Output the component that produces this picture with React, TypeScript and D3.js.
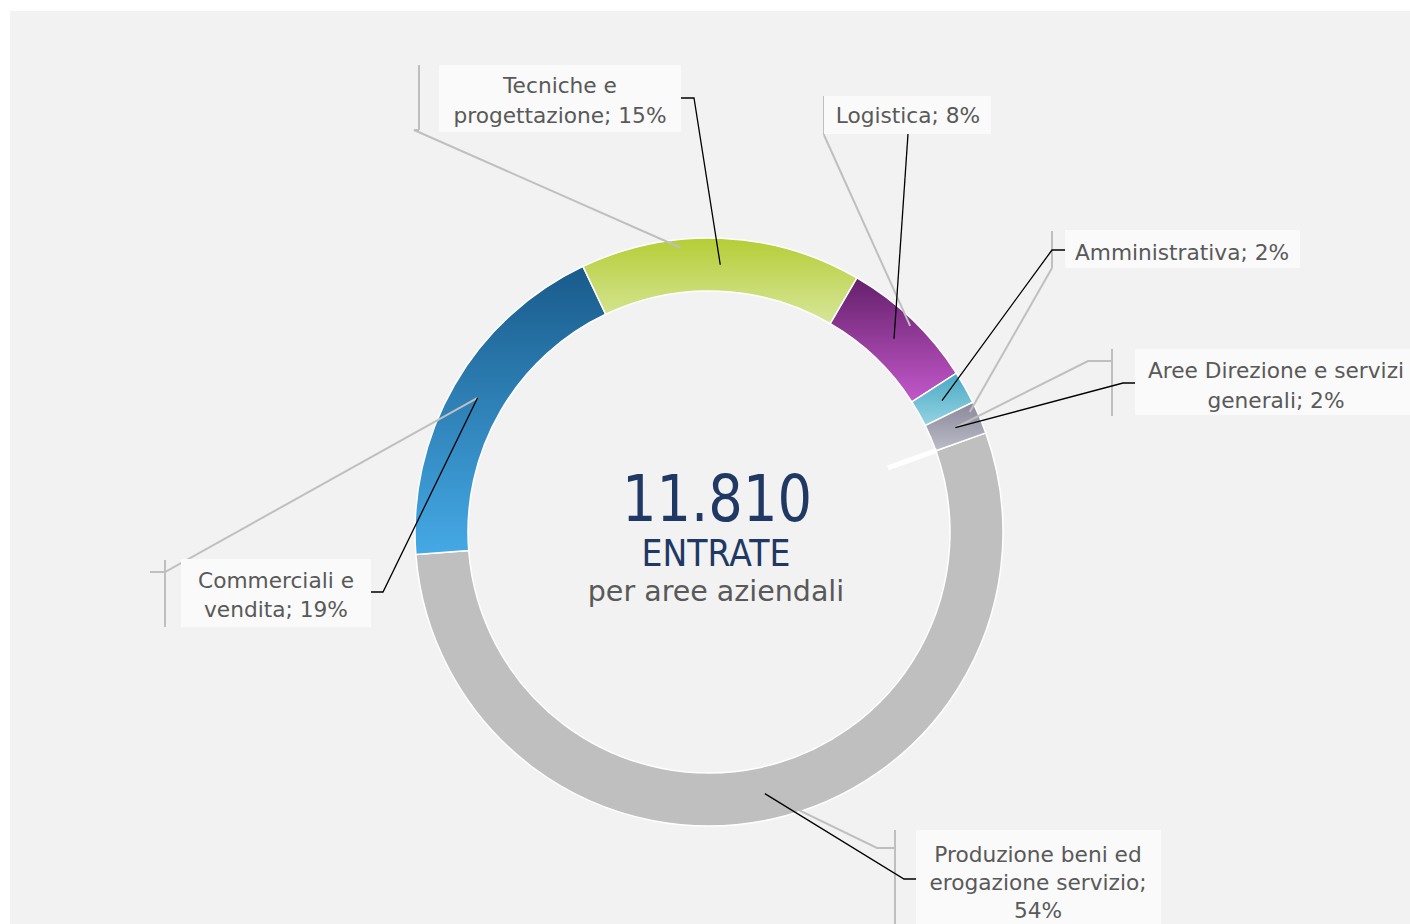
import React from "react";
import * as d3 from "d3";

// ---- data ----
const categories = [
  "Produzione beni ed erogazione servizio",
  "Commerciali e vendita",
  "Tecniche e progettazione",
  "Logistica",
  "Amministrativa",
  "Aree Direzione e servizi generali",
];
const values = [6407, 2264, 1824, 889, 213, 213];
const centerTitle = "11.810";
const centerSub1 = "ENTRATE";
const centerSub2 = "per aree aziendali";

// ---- styling / layout ----
const W = 1410;
const H = 924;
const cx = 709;
const cy = 532;
const R = 294;
const r0 = 241;
const startDeg = 70.3;

const gradTop = ["#bfbfbf", "#195b8b", "#b6cd36", "#65206b", "#48a8c3", "#8a889a"];
const gradBot = ["#bfbfbf", "#45a9e5", "#d7e69a", "#c258ca", "#95d4e3", "#bcbbc7"];

type Lay = {
  box: [number, number, number, number];
  tx: number;
  ty: number[];
  wrap: number[];
  black: [number, number][];
  grayStart: [number, number] | null; // [deg, radius] or null = centroid
  gray: [number, number][];
  grayV: [number, number, number];
};

const layout: Lay[] = [
  {
    box: [916, 830, 245, 100], tx: 1038, ty: [862, 890, 918], wrap: [3, 2, 1],
    black: [[904, 879], [916, 879]],
    grayStart: null, gray: [[877, 848], [895, 848]], grayV: [895, 830, 924],
  },
  {
    box: [181, 559, 190, 68], tx: 276, ty: [588, 617], wrap: [2, 2],
    black: [[383, 592], [371, 592]],
    grayStart: null, gray: [[165, 572], [150, 572]], grayV: [165, 560, 627],
  },
  {
    box: [439, 65, 242, 67], tx: 560, ty: [93, 123], wrap: [2, 2],
    black: [[694, 98], [681, 98]],
    grayStart: [-5.8, 286], gray: [[414, 130], [419, 130]], grayV: [419, 65, 130],
  },
  {
    box: [824, 96, 167, 38], tx: 908, ty: [123], wrap: [2],
    black: [[908, 134]],
    grayStart: [44.3, 288], gray: [[824, 135]], grayV: [824, 96, 135],
  },
  {
    box: [1065, 230, 235, 38], tx: 1182, ty: [260], wrap: [2],
    black: [[1052, 250], [1065, 250]],
    grayStart: [65.3, 287], gray: [[1052, 268]], grayV: [1052, 231, 268],
  },
  {
    box: [1135, 349, 290, 66], tx: 1276, ty: [378, 408], wrap: [4, 2],
    black: [[1123, 383], [1135, 383]],
    grayStart: null, gray: [[1088, 361], [1112, 361]], grayV: [1112, 349, 416],
  },
];

const FONT = "'DejaVu Sans', sans-serif";

export default function App() {
  const total = d3.sum(values);
  const pct = d3.format(".0%");
  const toRad = (d: number) => (d * Math.PI) / 180;

  const pie = d3
    .pie<number>()
    .sort(null)
    .value((d) => d)
    .startAngle(toRad(startDeg))
    .endAngle(toRad(startDeg) + Math.PI * 2);
  const arcs = pie(values);
  const arc = d3.arc<d3.PieArcDatum<number>>().innerRadius(r0).outerRadius(R);

  const polar = (deg: number, rad: number): [number, number] => [
    cx + rad * Math.sin(toRad(deg)),
    cy - rad * Math.cos(toRad(deg)),
  ];
  const centroid = (i: number): [number, number] => {
    const c = arc.centroid(arcs[i]);
    return [cx + c[0], cy + c[1]];
  };

  const line = d3.line();

  const labels = categories.map((c, i) => {
    const words = `${c}; ${pct(values[i] / total)}`.split(" ");
    const lines: string[] = [];
    let k = 0;
    layout[i].wrap.forEach((n) => {
      lines.push(words.slice(k, k + n).join(" "));
      k += n;
    });
    return lines;
  });

  const whiteA = polar(startDeg, 190);
  const whiteB = polar(startDeg, r0 + 1);

  return (
    <svg
      width={W}
      height={H}
      style={{ position: "absolute", left: 0, top: 0 }}
      fontFamily={FONT}
    >
      <defs>
        {values.map((_, i) => (
          <linearGradient key={i} id={`g${i}`} x1="0" y1="0" x2="0" y2="1">
            <stop offset="0" stopColor={gradTop[i]} />
            <stop offset="1" stopColor={gradBot[i]} />
          </linearGradient>
        ))}
      </defs>
      <rect x={0} y={0} width={W} height={H} fill="#ffffff" />
      <rect x={10} y={11} width={W - 10} height={H - 11} fill="#f2f2f2" />

      {/* gray vertical stubs */}
      {layout.map((l, i) => (
        <line key={`gv${i}`} x1={l.grayV[0]} y1={l.grayV[1]} x2={l.grayV[0]} y2={l.grayV[2]} stroke="#bfbfbf" strokeWidth={2} />
      ))}

      {/* slices */}
      <g transform={`translate(${cx},${cy})`}>
        {arcs.map((a, i) => (
          <path key={i} d={arc(a) || ""} fill={`url(#g${i})`} stroke="#ffffff" strokeWidth={1.5} />
        ))}
      </g>

      <line x1={whiteA[0]} y1={whiteA[1]} x2={whiteB[0]} y2={whiteB[1]} stroke="#ffffff" strokeWidth={5} />

      {/* gray phantom leader lines */}
      {layout.map((l, i) => {
        const s = l.grayStart ? polar(l.grayStart[0], l.grayStart[1]) : centroid(i);
        return (
          <path key={`gl${i}`} d={line([s, ...l.gray]) || ""} stroke="#bfbfbf" strokeWidth={2} fill="none" />
        );
      })}

      {/* black leader lines */}
      {layout.map((l, i) => (
        <path key={`bl${i}`} d={line([centroid(i), ...l.black]) || ""} stroke="#000000" strokeWidth={1.3} fill="none" />
      ))}

      {/* label boxes */}
      {layout.map((l, i) => (
        <g key={`lb${i}`}>
          <rect x={l.box[0]} y={l.box[1]} width={l.box[2]} height={l.box[3]} fill="#fafafa" />
          {labels[i].map((t, j) => (
            <text key={j} x={l.tx} y={l.ty[j]} textAnchor="middle" fontSize={21.7} fill="#595959">
              {t}
            </text>
          ))}
        </g>
      ))}

      {/* center text */}
      <text x={717} y={521} textAnchor="middle" fontSize={64} fill="#203864" textLength={190} lengthAdjust="spacingAndGlyphs">
        {centerTitle}
      </text>
      <text x={716} y={566} textAnchor="middle" fontSize={37} fill="#203864" textLength={149} lengthAdjust="spacingAndGlyphs">
        {centerSub1}
      </text>
      <text x={716} y={601} textAnchor="middle" fontSize={28.5} fill="#595959">
        {centerSub2}
      </text>
    </svg>
  );
}
